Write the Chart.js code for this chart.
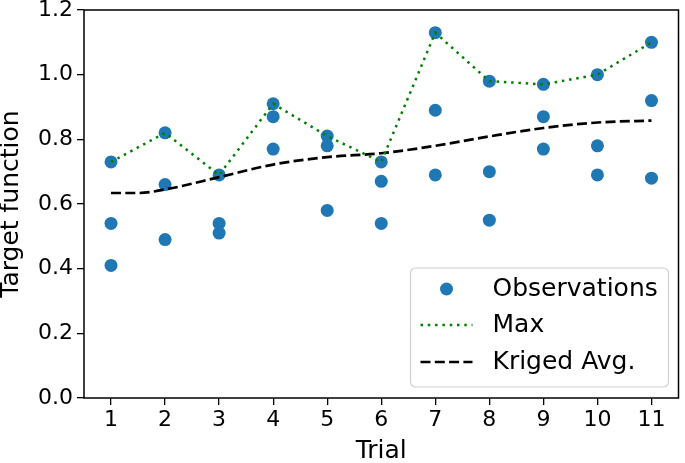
<!DOCTYPE html>
<html>
<head>
<meta charset="utf-8">
<script src="https://cdn.jsdelivr.net/npm/chart.js@4"></script>
<style>
  html, body { margin: 0; padding: 0; background: #fff; }
  canvas { display: block; }
</style>
</head>
<body>
<canvas id="chart" width="685" height="463"></canvas>
<script>
// values
const trials = [1, 2, 3, 4, 5, 6, 7, 8, 9, 10, 11];
const obsHigh = [0.73, 0.82, 0.69, 0.91, 0.81, 0.73, 1.13, 0.98, 0.97, 1.00, 1.10];
const obsMid = [0.54, 0.66, 0.54, 0.87, 0.78, 0.67, 0.89, 0.70, 0.87, 0.78, 0.92];
const obsLow = [0.41, 0.49, 0.51, 0.77, 0.58, 0.54, 0.69, 0.55, 0.77, 0.69, 0.68];
const maxVals = [0.73, 0.82, 0.69, 0.91, 0.81, 0.73, 1.13, 0.98, 0.97, 1.00, 1.10];
const krigedX = [1, 1.5, 2, 3, 4, 5, 6, 7, 8, 9, 10, 11];
const krigedY = [0.634, 0.634, 0.645, 0.683, 0.722, 0.745, 0.757, 0.780, 0.809, 0.835, 0.852, 0.858];
const yTicks = [0, 0.2, 0.4, 0.6, 0.8, 1.0, 1.2];

const blue = '#1f77b4';
const font = 'DejaVu Sans';
const dotted = [2.5, 4.8];
const dashed = [10, 4.3];

let observations = [];
[obsHigh, obsMid, obsLow].forEach(arr => {
  arr.forEach((v, i) => observations.push({ x: trials[i], y: v }));
});

// full axes box + legend in the lower right corner of the plot
const framePlugin = {
  id: 'frame',
  afterDraw(chart) {
    const { ctx, chartArea: a } = chart;
    ctx.save();
    ctx.strokeStyle = '#000';
    ctx.lineWidth = 1.5;
    ctx.strokeRect(a.left, a.top, a.right - a.left, a.bottom - a.top);

    const w = 258, h = 119;
    const x0 = a.right - 10 - w, y0 = a.bottom - 11 - h;
    ctx.beginPath();
    ctx.roundRect(x0, y0, w, h, 5);
    ctx.fillStyle = 'rgba(255,255,255,0.8)';
    ctx.fill();
    ctx.strokeStyle = '#d0d0d0';
    ctx.lineWidth = 1.2;
    ctx.stroke();

    const rows = [y0 + 21, y0 + 57, y0 + 94];
    const sx0 = x0 + 10, sx1 = x0 + 62, tx = x0 + 82;
    ctx.fillStyle = blue;
    ctx.beginPath();
    ctx.arc(x0 + 36, rows[0], 6.5, 0, Math.PI * 2);
    ctx.fill();

    ctx.lineWidth = 2.5;
    ctx.strokeStyle = 'green';
    ctx.setLineDash(dotted);
    ctx.beginPath();
    ctx.moveTo(sx0, rows[1]);
    ctx.lineTo(sx1, rows[1]);
    ctx.stroke();

    ctx.lineWidth = 2.7;
    ctx.strokeStyle = '#000';
    ctx.setLineDash(dashed);
    ctx.beginPath();
    ctx.moveTo(sx0, rows[2]);
    ctx.lineTo(sx1, rows[2]);
    ctx.stroke();
    ctx.setLineDash([]);

    ctx.fillStyle = '#000';
    ctx.font = `25px "${font}"`;
    ctx.textBaseline = 'middle';
    ctx.fillText('Observations', tx, rows[0]);
    ctx.fillText('Max', tx, rows[1]);
    ctx.fillText('Kriged Avg.', tx, rows[2]);
    ctx.restore();
  }
};

new Chart(document.getElementById('chart'), {
  type: 'scatter',
  data: {
    datasets: [
      {
        label: 'Kriged Avg.',
        type: 'line',
        data: krigedX.map((x, i) => ({ x: x, y: krigedY[i] })),
        borderColor: '#000',
        borderWidth: 2.7,
        borderDash: dashed,
        pointRadius: 0,
        cubicInterpolationMode: 'monotone',
        fill: false,
        order: 2
      },
      {
        label: 'Max',
        type: 'line',
        data: trials.map((x, i) => ({ x: x, y: maxVals[i] })),
        borderColor: 'green',
        borderWidth: 2.5,
        borderDash: dotted,
        pointRadius: 0,
        tension: 0,
        fill: false,
        order: 1
      },
      {
        label: 'Observations',
        data: observations,
        backgroundColor: blue,
        borderColor: blue,
        borderWidth: 0,
        pointRadius: 6.5,
        pointHoverRadius: 6.5,
        order: 3
      }
    ]
  },
  options: {
    responsive: false,
    animation: false,
    devicePixelRatio: 1,
    layout: { padding: { top: 10, right: 2, left: 0, bottom: 0 } },
    plugins: {
      legend: { display: false },
      tooltip: { enabled: false }
    },
    scales: {
      x: {
        type: 'linear',
        min: 0.5,
        max: 11.5,
        afterBuildTicks: axis => { axis.ticks = trials.map(v => ({ value: v })); },
        afterFit: axis => { axis.height = 65; axis.paddingLeft = 0; axis.paddingRight = 0; },
        grid: { drawOnChartArea: false, color: '#000', tickLength: 7, lineWidth: 1.3 },
        border: { display: false },
        ticks: { color: '#000', font: { family: font, size: 22 }, padding: 2, maxRotation: 0, autoSkip: false, callback: v => String(v) },
        title: { display: true, text: 'Trial', color: '#000', font: { family: font, size: 25, lineHeight: 1 }, padding: { top: 0, bottom: -1 } }
      },
      y: {
        min: 0,
        max: 1.2,
        afterBuildTicks: axis => { axis.ticks = yTicks.map(v => ({ value: v })); },
        afterFit: axis => { axis.width = 84; axis.paddingTop = 0; axis.paddingBottom = 0; },
        grid: { drawOnChartArea: false, color: '#000', tickLength: 7, lineWidth: 1.3 },
        border: { display: false },
        ticks: { color: '#000', font: { family: font, size: 22 }, padding: 4, autoSkip: false, callback: v => v.toFixed(1) },
        title: { display: true, text: 'Target function', color: '#000', font: { family: font, size: 25, lineHeight: 1 }, padding: { top: -1.5, bottom: 0 } }
      }
    }
  },
  plugins: [framePlugin]
});
</script>
</body>
</html>
